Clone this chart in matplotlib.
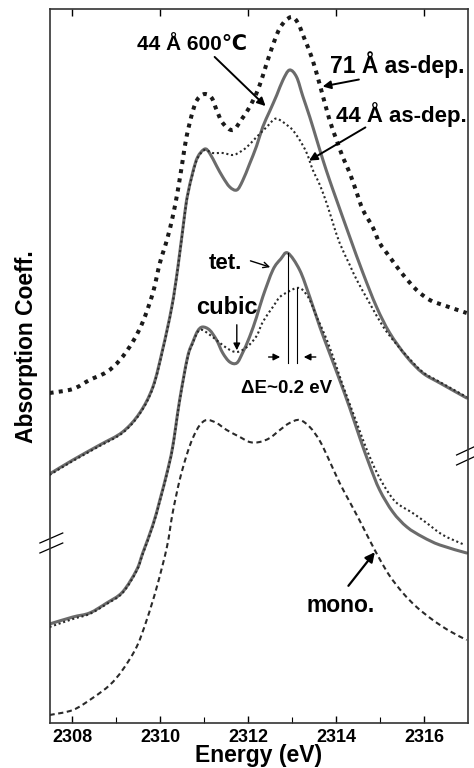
import matplotlib
matplotlib.use("Agg")
import matplotlib.pyplot as plt
from matplotlib.path import Path
from matplotlib.patches import PathPatch

plt.rcParams['font.family'] = ['Liberation Sans', 'DejaVu Sans']
plt.rcParams['font.weight'] = 'bold'

# ---------------- data (energy in eV, absorption in arb. units, offset curves) -------------
e_71 = [2307.48, 2308.01, 2308.39, 2308.78, 2309.08, 2309.37, 2309.60, 2309.83, 2309.99, 2310.15,
        2310.28, 2310.40, 2310.51, 2310.60, 2310.74, 2310.85, 2311.01, 2311.17, 2311.28, 2311.42,
        2311.65, 2311.87, 2312.03, 2312.19, 2312.33, 2312.49, 2312.72, 2312.97, 2313.13, 2313.29,
        2313.45, 2313.63, 2313.85, 2314.01, 2314.15, 2314.31, 2314.47, 2314.61, 2314.83, 2314.99,
        2315.22, 2315.49, 2315.83, 2316.13, 2316.43, 2316.97]
a_71 = [330, 334, 343, 351, 363, 381, 401, 430, 460, 483,
        506, 533, 563, 587, 612, 624, 629, 625, 613, 600,
        593, 605, 616, 630, 647, 669, 695, 706, 700, 683,
        665, 638, 603, 583, 566, 550, 530, 513, 496, 480,
        466, 450, 433, 423, 418, 410]

e_600_up = [2307.48, 2308.01, 2308.62, 2309.14, 2309.53, 2309.83, 2310.05, 2310.26, 2310.40, 2310.56,
            2310.62, 2310.74, 2310.85, 2311.01, 2311.12, 2311.28, 2311.42, 2311.58, 2311.74, 2311.87,
            2312.03, 2312.19, 2312.33, 2312.49, 2312.65, 2312.79, 2312.94, 2313.10, 2313.24, 2313.40,
            2313.56, 2313.70, 2313.85, 2314.01, 2314.31, 2314.61, 2314.92, 2315.22, 2315.61, 2315.97,
            2316.36, 2316.97]
a_600_up = [249, 263, 278, 291, 310, 336, 373, 416, 456, 511,
            528, 551, 566, 574, 570, 557, 546, 536, 533, 542,
            559, 577, 596, 612, 628, 643, 653, 646, 627, 606,
            583, 563, 543, 523, 486, 450, 416, 390, 366, 350,
            340, 325]

e_44_up = [2307.48, 2308.01, 2308.62, 2309.14, 2309.53, 2309.83, 2310.05, 2310.26, 2310.40, 2310.56,
           2310.62, 2310.74, 2310.85, 2311.01, 2311.19, 2311.42, 2311.65, 2311.81, 2311.97, 2312.19,
           2312.42, 2312.60, 2312.72, 2312.88, 2313.01, 2313.17, 2313.33, 2313.47, 2313.63, 2313.79,
           2313.92, 2314.08, 2314.31, 2314.47, 2314.76, 2315.06, 2315.33, 2315.61, 2315.97, 2316.36,
           2316.97]
a_44_up = [248, 262, 277, 290, 309, 335, 372, 415, 455, 510,
           527, 550, 565, 573, 570, 570, 568, 571, 576, 586,
           596, 604, 603, 598, 593, 583, 570, 553, 538, 519,
           501, 480, 458, 443, 420, 397, 381, 367, 351, 341,
           326]

e_600_lo = [2307.48, 2308.01, 2308.39, 2308.78, 2309.14, 2309.46, 2309.60, 2309.83, 2309.99, 2310.15,
            2310.28, 2310.44, 2310.62, 2310.74, 2310.85, 2310.96, 2311.12, 2311.28, 2311.42, 2311.58,
            2311.74, 2311.87, 2312.03, 2312.19, 2312.33, 2312.56, 2312.74, 2312.90, 2313.17, 2313.40,
            2313.63, 2313.85, 2314.08, 2314.31, 2314.54, 2314.76, 2314.99, 2315.29, 2315.61, 2315.97,
            2316.36, 2316.97]
a_600_lo = [99, 106, 110, 120, 131, 153, 170, 198, 223, 250,
            276, 323, 366, 381, 392, 396, 393, 383, 370, 361,
            360, 370, 386, 406, 426, 453, 464, 470, 453, 426,
            396, 370, 343, 315, 285, 258, 233, 211, 196, 186,
            178, 170]

e_44_lo = [2307.48, 2308.01, 2308.39, 2308.78, 2309.14, 2309.46, 2309.60, 2309.83, 2309.99, 2310.15,
           2310.28, 2310.44, 2310.62, 2310.74, 2310.85, 2310.96, 2311.19, 2311.51, 2311.74, 2311.97,
           2312.19, 2312.33, 2312.56, 2312.72, 2312.90, 2313.10, 2313.24, 2313.40, 2313.56, 2313.79,
           2314.01, 2314.15, 2314.47, 2314.70, 2314.92, 2315.15, 2315.38, 2315.74, 2316.06, 2316.43,
           2316.93]
a_44_lo = [96, 104, 109, 119, 130, 152, 169, 197, 222, 249,
           275, 322, 365, 380, 391, 393, 386, 375, 371, 376,
           387, 401, 416, 426, 431, 435, 433, 423, 406, 383,
           356, 338, 300, 273, 251, 233, 220, 210, 200, 188,
           178]

e_mono = [2307.48, 2308.01, 2308.46, 2308.85, 2309.14, 2309.46, 2309.69, 2309.92, 2310.15, 2310.28,
          2310.44, 2310.60, 2310.74, 2310.90, 2311.06, 2311.28, 2311.51, 2311.81, 2312.03, 2312.26,
          2312.49, 2312.72, 2312.94, 2313.17, 2313.40, 2313.63, 2313.85, 2314.08, 2314.31, 2314.54,
          2314.76, 2314.99, 2315.22, 2315.52, 2315.83, 2316.20, 2316.58, 2316.97]
a_mono = [8, 13, 25, 38, 53, 76, 103, 136, 176, 210,
          243, 268, 285, 298, 303, 300, 293, 286, 281, 281,
          285, 293, 300, 303, 296, 282, 262, 240, 221, 202,
          183, 164, 147, 130, 116, 103, 92, 83]

peak_tet = 2312.90      # tetragonal-like peak (44 A 600C)
peak_asdep = 2313.10    # as-deposited peak
x_ticks = [2308, 2310, 2312, 2314, 2316]
x_minor = [2309, 2311, 2313, 2315]


def smooth_curve(ax, x, y, **kw):
    """Draw a curve through the given points using Catmull-Rom (cubic Bezier) segments."""
    pts = list(zip(x, y))
    n = len(pts)
    verts = [pts[0]]
    codes = [Path.MOVETO]
    for i in range(n - 1):
        p0 = pts[i - 1] if i > 0 else pts[i]
        p1 = pts[i]
        p2 = pts[i + 1]
        p3 = pts[i + 2] if i + 2 < n else pts[i + 1]
        c1 = (p1[0] + (p2[0] - p0[0]) / 6.0, p1[1] + (p2[1] - p0[1]) / 6.0)
        c2 = (p2[0] - (p3[0] - p1[0]) / 6.0, p2[1] - (p3[1] - p1[1]) / 6.0)
        verts += [c1, c2, p2]
        codes += [Path.CURVE4] * 3
    patch = PathPatch(Path(verts, codes), fill=False, **kw)
    ax.add_patch(patch)
    return patch


# ---------------- figure ---------------------------------------------------------------
fig = plt.figure(figsize=(4.74, 7.68), dpi=100)
ax = fig.add_axes([50 / 474, 1 - 723 / 768, 418 / 474, 714 / 768])

solid_kw = dict(edgecolor='#6b6b6b', lw=2.2, capstyle='round', joinstyle='round')
smooth_curve(ax, e_600_up, a_600_up, zorder=2, **solid_kw)
smooth_curve(ax, e_600_lo, a_600_lo, zorder=2, **solid_kw)
smooth_curve(ax, e_71, a_71, edgecolor='#1a1a1a', lw=2.9, linestyle=(0, (1, 1.3)), zorder=3)
smooth_curve(ax, e_44_up, a_44_up, edgecolor='#2a2a2a', lw=1.5, linestyle=(0, (1, 1.3)), zorder=3)
smooth_curve(ax, e_44_lo, a_44_lo, edgecolor='#2a2a2a', lw=1.5, linestyle=(0, (1, 1.3)), zorder=3)
smooth_curve(ax, e_mono, a_mono, edgecolor='#2a2a2a', lw=1.5, linestyle=(0, (2.5, 1.7)), zorder=3)

# peak markers and Delta E arrows
ax.plot([peak_tet, peak_tet], [360, 470], color='k', lw=0.8, zorder=4)
ax.plot([peak_asdep, peak_asdep], [360, 435], color='k', lw=0.8, zorder=4)
ax.annotate('', xy=(2312.79, 366), xytext=(2312.40, 366),
            arrowprops=dict(arrowstyle='-|>', color='k', lw=1.0, mutation_scale=10))
ax.annotate('', xy=(2313.20, 366), xytext=(2313.60, 366),
            arrowprops=dict(arrowstyle='-|>', color='k', lw=1.0, mutation_scale=10))

# axis break marks
for dy in (0, -10):
    ax.plot([2307.26, 2307.78], [180 + dy, 190 + dy], color='k', lw=0.9, clip_on=False)
    ax.plot([2316.74, 2317.13], [268 + dy, 276 + dy], color='k', lw=0.9, clip_on=False)

# annotations
ax.text(2310.71, 673, '44 Å 600℃', ha='center', va='baseline', fontsize=15)
ax.annotate('', xy=(2312.44, 615), xytext=(2311.19, 668),
            arrowprops=dict(arrowstyle='-|>', color='k', lw=1.4, mutation_scale=12))
ax.text(2315.38, 650, '71 Å as-dep.', ha='center', va='baseline', fontsize=16.5)
ax.annotate('', xy=(2313.63, 636), xytext=(2314.58, 644),
            arrowprops=dict(arrowstyle='-|>', color='k', lw=1.4, mutation_scale=12))
ax.text(2315.49, 601, '44 Å as-dep.', ha='center', va='baseline', fontsize=16)
ax.annotate('', xy=(2313.33, 561), xytext=(2314.72, 597),
            arrowprops=dict(arrowstyle='-|>', color='k', lw=1.4, mutation_scale=12))
ax.text(2311.49, 454, 'tet.', ha='center', va='baseline', fontsize=16)
ax.annotate('', xy=(2312.56, 455), xytext=(2311.99, 463),
            arrowprops=dict(arrowstyle='->', color='k', lw=1.0, mutation_scale=10))
ax.text(2311.51, 409, 'cubic', ha='center', va='baseline', fontsize=17)
ax.annotate('', xy=(2311.74, 370), xytext=(2311.74, 401),
            arrowprops=dict(arrowstyle='-|>', color='k', lw=1.0, mutation_scale=10))
ax.text(2312.88, 330, 'ΔE~0.2 eV', ha='center', va='baseline', fontsize=13.5)
ax.text(2314.11, 111, 'mono.', ha='center', va='baseline', fontsize=16.5)
ax.annotate('', xy=(2314.92, 173), xytext=(2314.24, 135),
            arrowprops=dict(arrowstyle='-|>', color='k', lw=1.6, mutation_scale=14))

# axes styling
ax.set_xticks(x_ticks)
ax.set_xticklabels([str(t) for t in x_ticks])
ax.set_xticks(x_minor, minor=True)
ax.set_yticks([])
ax.set_xlim(2307.49, 2317.0)
ax.set_ylim(0, 714)
ax.tick_params(axis='x', which='major', direction='in', length=5, width=1.0,
               labelsize=13, pad=4, top=True)
ax.tick_params(axis='x', which='minor', direction='in', length=4, width=0.8, top=False)
for s in ax.spines.values():
    s.set_linewidth(1.2)
    s.set_color('#333333')
ax.set_xlabel('Energy (eV)', fontsize=16.5, fontweight='bold', labelpad=-1)
fig.text(27 / 474, 1 - 347 / 768, 'Absorption Coeff.', rotation=90, ha='center', va='center',
         fontsize=16.5, fontweight='bold')

fig.savefig('out.png', dpi=100)
